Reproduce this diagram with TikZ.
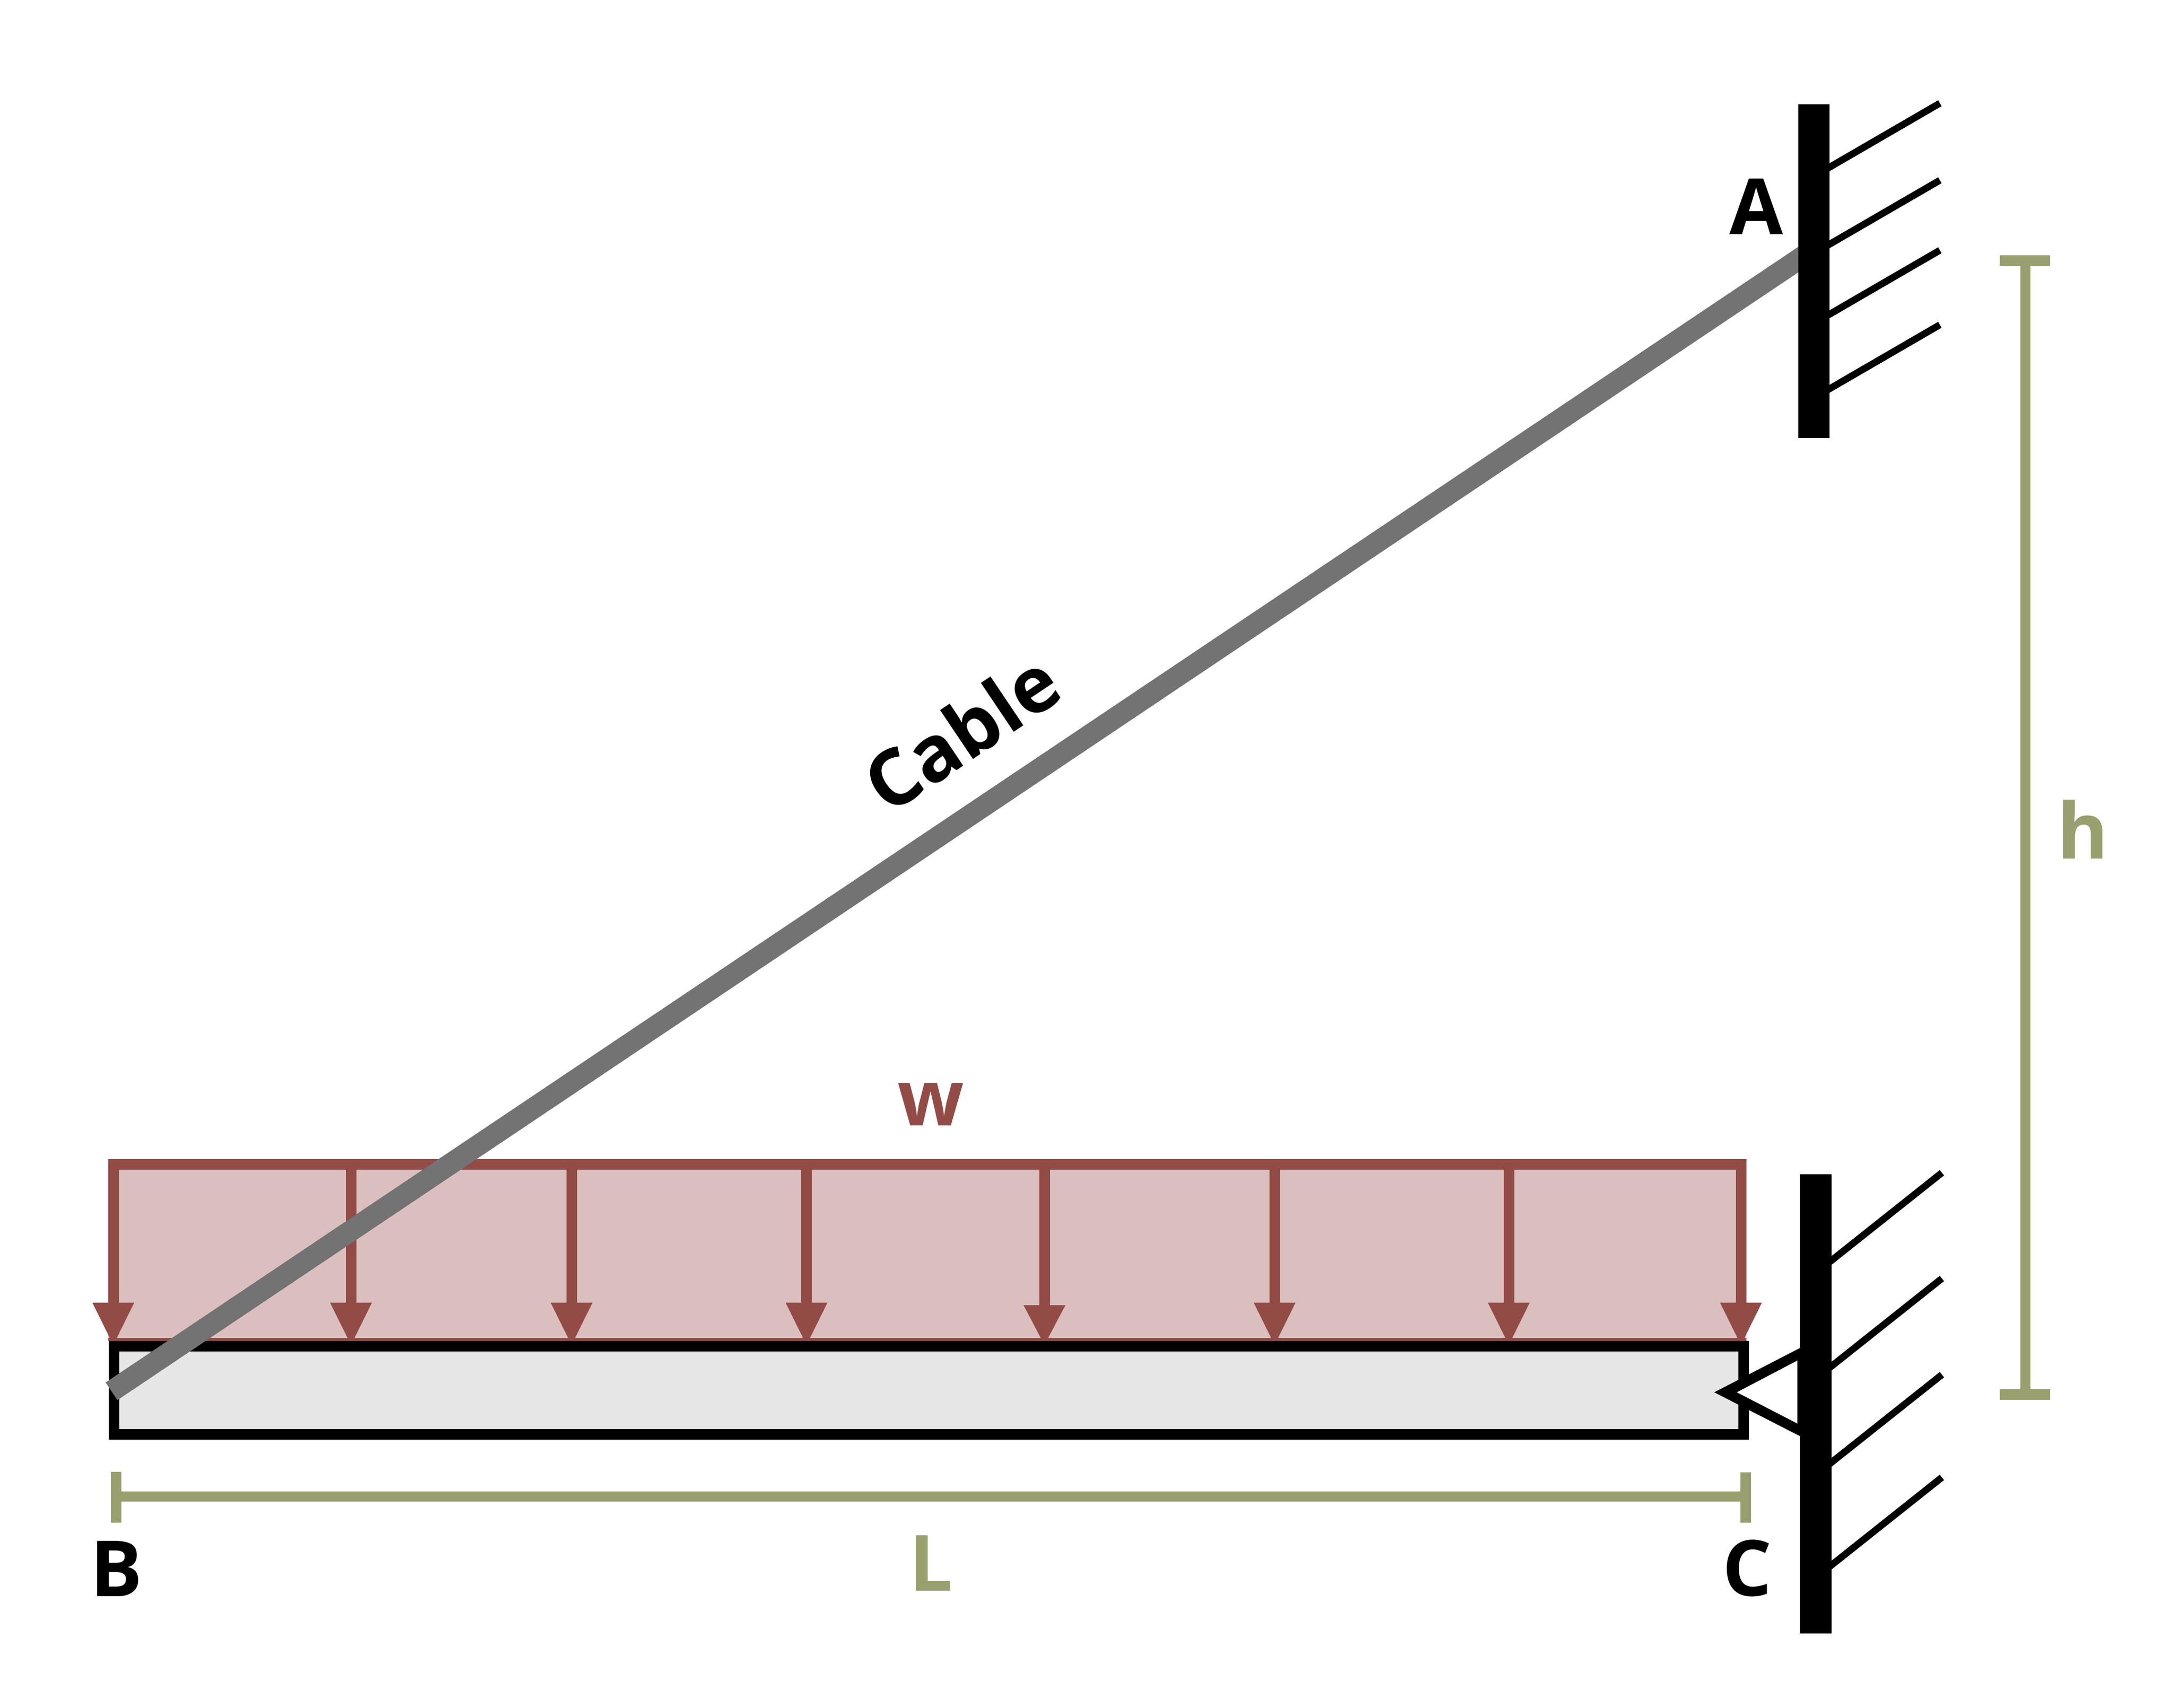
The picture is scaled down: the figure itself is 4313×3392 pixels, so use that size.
\documentclass[tikz,border=0pt]{standalone}
\usepackage{fontspec}
\setmainfont{Open Sans}[BoldFont={Open Sans Bold}]
\definecolor{loadc}{HTML}{934B46}
\definecolor{loadf}{HTML}{DBBFBF}
\definecolor{cablec}{HTML}{737373}
\definecolor{beamf}{HTML}{E6E6E6}
\definecolor{dimc}{HTML}{999F6E}
\tikzset{
  lbl/.style={anchor=base,inner sep=0pt,outer sep=0pt,font=\fontsize{38.5pt}{46pt}\selectfont\bfseries},
  hatchline/.style={draw=black,line width=3.4pt},
  loadline/.style={draw=loadc,line width=5.25pt},
  dimline/.style={draw=dimc,line width=5pt},
  dimtick/.style={draw=dimc,line width=5.25pt},
}
\begin{document}
\begin{tikzpicture}[x=0.25pt,y=-0.25pt]
\useasboundingbox (0,0) rectangle (4313,3392);
% load area
\fill[loadf] (215,2302) rectangle (3468,2663);
\fill[loadc] (215,2657) rectangle (3468,2663);
\foreach \ax/\ay in {225/2587,697/2587,1135/2587,1601.5/2587,2074/2592,2531/2587,2996/2587,3457/2587}{
  \draw[loadline] (\ax,2312) -- (\ax,\ay+2);
  \fill[loadc] (\ax-41.5,\ay) -- (\ax+41.5,\ay) -- (\ax,2671) -- cycle;
}
\draw[loadline] (215,2312) -- (3468,2312);
% beam
\draw[draw=black,fill=beamf,line width=5.25pt] (226.5,2673.5) rectangle (3462,2848.5);
% cable
\coordinate (cableB) at (221.5,2763);
\coordinate (cableA) at (3600,496);
\draw[draw=cablec,line width=10.5pt] (cableB) -- (cableA);
% hatches wall A
\foreach \ey in {205,358,497,645}{
  \draw[hatchline] (3852,\ey) -- (3610,\ey+140.4);
}
\fill[black] (3571,207) rectangle (3633,870);
% hatches wall C
\foreach \ey in {2329,2539,2730,2934}{
  \draw[hatchline] (3856,\ey) -- (3610,\ey+195.5);
}
% pin
\fill[black] (3404,2765) -- (3580,2674) -- (3580,2855) -- cycle;
\fill[white] (3449,2765) -- (3569,2702) -- (3569,2827) -- cycle;
\fill[black] (3574,2332) rectangle (3637,3244);
% dimension L
\coordinate (dimLa) at (230.5,2972);
\coordinate (dimLb) at (3466,2972);
\draw[dimline] (dimLa) -- (dimLb);
\draw[dimtick] (230.5,2923) -- (230.5,3024);
\draw[dimtick] (3466,2924) -- (3466,3024);
% dimension h
\coordinate (dimHa) at (4022,517.5);
\coordinate (dimHb) at (4022,2769.5);
\draw[dimline] (dimHa) -- (dimHb);
\draw[dimtick] (3971,517.5) -- (4071,517.5);
\draw[dimtick] (3971,2769.5) -- (4071,2769.5);
% labels
\node[lbl] (labA) at (3488,466) {A};
\node[lbl] (labB) at (231,3170) {B};
\node[lbl] (labC) at (3470,3169) {C};
\node[lbl,text=dimc] (labL) at (1849,3159) {L};
\node[lbl,text=dimc] (labh) at (4136,1705) {h};
\node[lbl,text=loadc] (labw) at (1848,2235) {w};
\node[lbl,rotate=33.9] (labCable) at (1940.7,1502) {Cable};
\end{tikzpicture}
\end{document}
